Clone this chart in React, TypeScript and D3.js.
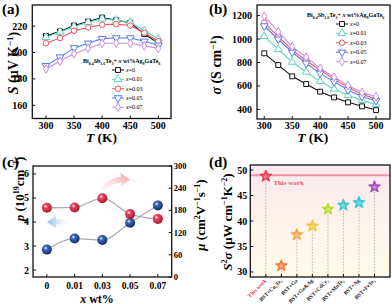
import React from "react";
import * as d3 from "d3";

const temps = [300, 325, 350, 375, 400, 425, 450, 475, 500];
const seriesNames = ["0", "0.01", "0.03", "0.05", "0.07"];
const seriesColors = ["#111111", "#5dd3c3", "#f2545f", "#5b7be8", "#c98ee8"];
const seriesSymbols = ["square", "triangle", "circle", "triangleDown", "diamond"];

const seebeck0 = [212.5, 216, 220.5, 223.5, 226.5, 224.5, 222.5, 214, 207];
const seebeck1 = [211.5, 215.5, 219.5, 223, 225.5, 224.5, 223, 216.5, 210.5];
const seebeck3 = [207, 211, 216.5, 219, 221, 221.5, 220.5, 215, 208.5];
const seebeck5 = [190, 196.5, 203.5, 207, 210.5, 211, 211, 208.5, 205.5];
const seebeck7 = [187.5, 193.5, 199, 203, 207, 207, 207, 205, 203];

const sigma0 = [878, 778, 682, 616, 551, 502, 460, 426, 394];
const sigma1 = [1023, 912, 804, 719, 639, 574, 520, 477, 443];
const sigma3 = [1140, 1020, 907, 815, 736, 656, 588, 528, 488];
const sigma5 = [1111, 998, 887, 793, 707, 636, 565, 508, 474];
const sigma7 = [1194, 1063, 935, 845, 750, 674, 603, 545, 508];

const sTicks = [160, 180, 200, 220];
const sigmaTicks = [400, 600, 800, 1000, 1200];
const tTicks = [300, 350, 400, 450, 500];

const xCats = ["0", "0.01", "0.03", "0.05", "0.07"];
const carrierP = [2.85, 3.31, 3.25, 3.97, 4.69];
const mobility = [187, 188, 213, 170, 157];
const pTicks = [2, 3, 4, 5, 6];
const muTicks = [0, 60, 120, 180, 240, 300];

const pfCats = ["This work", "BST+Cu₂Te₃", "BST+Ga", "BST+Ga&Ag", "BST+CdCr₂", "BST+MnTe₂", "BST+Ag", "BST+FeTe₂"];
const pfValues = [48.8, 31.2, 37.3, 39.0, 42.3, 43.1, 43.6, 46.7];
const pfColors = ["#e8334f", "#f07a3a", "#f5a43a", "#f2c52a", "#b5dc22", "#3fbfbf", "#22c6dc", "#a23fc2"];
const pfTicks = [30, 35, 40, 45, 50];
const thisWorkLine = 49.0;

const FONT = "'Liberation Serif', 'Times New Roman', serif";

function symbolPath(kind: string): string {
  const map: Record<string, [any, number]> = {
    square: [d3.symbolSquare, 24],
    triangle: [d3.symbolTriangle, 26],
    circle: [d3.symbolCircle, 24],
    triangleDown: [d3.symbolTriangle, 26],
    diamond: [d3.symbolDiamond, 22],
  };
  const [t, s] = map[kind];
  return d3.symbol().type(t).size(s)() as string;
}

function Marker({ kind, x, y, color }: { kind: string; x: number; y: number; color: string }) {
  const rot = kind === "triangleDown" ? 180 : 0;
  return (
    <path
      d={symbolPath(kind)}
      transform={`translate(${x},${y}) rotate(${rot})`}
      fill="white"
      stroke={color}
      strokeWidth={1}
    />
  );
}

type LinePanelProps = {
  left: number; right: number; top: number; bottom: number;
  xDomain: [number, number]; yDomain: [number, number];
  yTicks: number[]; data: number[][];
  yLabelGap: number;
  legendX: number; legendTitleY: number; legendYs: number[]; titleX: number;
};

function LinePanel(p: LinePanelProps) {
  const x = d3.scaleLinear().domain(p.xDomain).range([p.left, p.right]);
  const y = d3.scaleLinear().domain(p.yDomain).range([p.bottom, p.top]);
  const line = d3.line<number>().x((_, i) => x(temps[i])).y((d) => y(d));
  return (
    <g fontFamily={FONT} fontWeight="bold">
      {p.data.map((s, si) => (
        <g key={si}>
          <path d={line(s) as string} fill="none" stroke={seriesColors[si]} strokeWidth={1.1} />
          {s.map((v, i) => (
            <Marker key={i} kind={seriesSymbols[si]} x={x(temps[i])} y={y(v)} color={seriesColors[si]} />
          ))}
        </g>
      ))}
      <rect x={p.left} y={p.top} width={p.right - p.left} height={p.bottom - p.top} fill="none" stroke="#111" strokeWidth={1.3} />
      {p.yTicks.map((t) => (
        <g key={t}>
          <line x1={p.left} x2={p.left + 3} y1={y(t)} y2={y(t)} stroke="#111" strokeWidth={1} />
          <text x={p.left - p.yLabelGap} y={y(t)} dy="0.35em" textAnchor="end" fontSize={10}>{t}</text>
        </g>
      ))}
      {tTicks.map((t) => (
        <g key={t}>
          <line x1={x(t)} x2={x(t)} y1={p.bottom} y2={p.bottom - 3} stroke="#111" strokeWidth={1} />
          <text x={x(t)} y={p.bottom + 10} textAnchor="middle" fontSize={10}>{t}</text>
        </g>
      ))}
      <text x={p.titleX} y={142} textAnchor="middle" fontSize={13.5}>
        <tspan fontStyle="italic">T</tspan> (K)
      </text>
      <text x={p.legendX} y={p.legendTitleY} fontSize={6}>
        Bi<tspan fontSize={4} dy={1.5}>0.4</tspan><tspan dy={-1.5}>Sb</tspan><tspan fontSize={4} dy={1.5}>1.6</tspan>
        <tspan dy={-1.5}>Te</tspan><tspan fontSize={4} dy={1.5}>3</tspan><tspan dy={-1.5}>+ </tspan>
        <tspan fontStyle="italic">x</tspan> wt%Ag<tspan fontSize={4} dy={1.5}>9</tspan><tspan dy={-1.5}>GaTe</tspan>
        <tspan fontSize={4} dy={1.5}>6</tspan>
      </text>
      {seriesNames.map((n, si) => {
        const ly = p.legendYs[si];
        const lx = p.legendX + 29;
        return (
          <g key={n}>
            <line x1={lx} x2={lx + 12} y1={ly} y2={ly} stroke={seriesColors[si]} strokeWidth={1} />
            <Marker kind={seriesSymbols[si]} x={lx + 6} y={ly} color={seriesColors[si]} />
            <text x={lx + 14} y={ly} dy="0.35em" fontSize={6} fontWeight="normal">
              <tspan fontStyle="italic">x</tspan>={n}
            </text>
          </g>
        );
      })}
    </g>
  );
}

function star(cx: number, cy: number, ro: number, ri: number): string {
  const pts: [number, number][] = [];
  for (let i = 0; i < 10; i++) {
    const r = i % 2 === 0 ? ro : ri;
    const a = -Math.PI / 2 + (i * Math.PI) / 5;
    pts.push([cx + r * Math.cos(a), cy + r * Math.sin(a)]);
  }
  return "M" + pts.map((q) => q.join(",")).join("L") + "Z";
}

export default function App() {
  // Panel (c)
  const cL = 33, cR = 171.7, cT = 166, cB = 277;
  const cx = d3.scalePoint<string>().domain(xCats).range([cL, cR]).padding(0.5);
  const cyP = d3.scaleLinear().domain([1.71, 6.33]).range([cB, cT]);
  const cyM = d3.scaleLinear().domain([0, 300]).range([cB, cT]);
  const smooth = d3.line<[number, number]>().x((d) => d[0]).y((d) => d[1]).curve(d3.curveMonotoneX);
  const pPts: [number, number][] = carrierP.map((v, i) => [cx(xCats[i]) as number, cyP(v)]);
  const mPts: [number, number][] = mobility.map((v, i) => [cx(xCats[i]) as number, cyM(v)]);

  // Panel (d)
  const dL = 250.3, dR = 390, dT = 165, dB = 277;
  const dx = d3.scalePoint<string>().domain(pfCats).range([dL, dR]).padding(1);
  const dy = d3.scaleLinear().domain([29, 51]).range([dB, dT]);

  return (
    <svg width={392} height={304} style={{ position: "absolute", left: 0, top: 0 }} fontFamily={FONT}>
      <defs>
        <radialGradient id="sphBlue" cx="38%" cy="35%" r="65%">
          <stop offset="0%" stopColor="#e8f0ff" />
          <stop offset="30%" stopColor="#3a66b8" />
          <stop offset="100%" stopColor="#142c66" />
        </radialGradient>
        <radialGradient id="sphRed" cx="38%" cy="35%" r="65%">
          <stop offset="0%" stopColor="#fff0f2" />
          <stop offset="30%" stopColor="#ea4660" />
          <stop offset="100%" stopColor="#a81a32" />
        </radialGradient>
        <linearGradient id="arrBlue" x1="0" y1="0" x2="1" y2="0">
          <stop offset="0%" stopColor="#8dbbe4" stopOpacity={0.95} />
          <stop offset="100%" stopColor="#d8e8f6" stopOpacity={0.1} />
        </linearGradient>
        <linearGradient id="arrRed" x1="1" y1="0" x2="0" y2="1">
          <stop offset="0%" stopColor="#f49a9a" stopOpacity={0.95} />
          <stop offset="100%" stopColor="#fbdada" stopOpacity={0.1} />
        </linearGradient>
        <linearGradient id="bgD" x1="0" y1="0" x2="0" y2="1">
          <stop offset="0%" stopColor="#fbe9ee" />
          <stop offset="100%" stopColor="#fffce9" />
        </linearGradient>
      </defs>

      {/* Panel (a) */}
      <LinePanel
        left={32.3} right={171} top={5} bottom={118.5}
        xDomain={[275.7, 522.5]} yDomain={[150, 236]} yTicks={sTicks}
        data={[seebeck0, seebeck1, seebeck3, seebeck5, seebeck7]} yLabelGap={5}
        legendX={83} legendTitleY={63} legendYs={[70, 79.3, 88.7, 98, 107.3]} titleX={101.5}
      />
      <text x={2} y={14} fontSize={15} fontWeight="bold">(a)</text>
      <text transform="translate(18,63) rotate(-90)" textAnchor="middle" fontSize={14} fontWeight="bold">
        <tspan fontStyle="italic">S</tspan> (μV K<tspan fontSize={9} dy={-5}>−1</tspan><tspan dy={5}>)</tspan>
      </text>

      {/* Panel (b) */}
      <LinePanel
        left={257} right={390} top={5} bottom={119}
        xDomain={[287, 525]} yDomain={[318, 1290]} yTicks={sigmaTicks}
        data={[sigma0, sigma1, sigma3, sigma5, sigma7]} yLabelGap={5}
        legendX={307} legendTitleY={17} legendYs={[24, 33.3, 42.7, 52.3, 61.7]} titleX={312.7}
      />
      <text x={209} y={14} fontSize={15} fontWeight="bold">(b)</text>
      <text transform="translate(221,65) rotate(-90)" textAnchor="middle" fontSize={14} fontWeight="bold">
        <tspan fontStyle="italic">σ</tspan> (S cm<tspan fontSize={9} dy={-5}>−1</tspan><tspan dy={5}>)</tspan>
      </text>

      {/* Panel (c) */}
      <g fontWeight="bold">
        <text x={2} y={167} fontSize={15}>(c)</text>
        <path d={smooth(pPts) as string} fill="none" stroke="#a9a9b4" strokeWidth={1.2} />
        <path d={smooth(mPts) as string} fill="none" stroke="#a9a9b4" strokeWidth={1.2} />
        <path d="M47,222 L56.5,215.5 L55.8,219.6 Q63,219.2 69,220.3 L69,224.5 Q63,224 55.8,224.6 L56.5,228.5 Z" fill="url(#arrBlue)" />
        <path d="M130,179.5 L120.5,173 L121,176.7 Q109,177.5 100,189 L102,193 Q110,183.5 121,182.5 L120.8,186.5 Z" fill="url(#arrRed)" />
        {pPts.map((q, i) => <circle key={"p" + i} cx={q[0]} cy={q[1]} r={5} fill="url(#sphBlue)" />)}
        {mPts.map((q, i) => <circle key={"m" + i} cx={q[0]} cy={q[1]} r={5} fill="url(#sphRed)" />)}
        <rect x={cL} y={cT} width={cR - cL} height={cB - cT} fill="none" stroke="#111" strokeWidth={1.3} />
        {pTicks.map((t) => (
          <g key={t}>
            <line x1={cL} x2={cL + 3} y1={cyP(t)} y2={cyP(t)} stroke="#111" />
            <text x={cL - 4} y={cyP(t)} dy="0.35em" textAnchor="end" fontSize={10}>{t}</text>
          </g>
        ))}
        {muTicks.map((t) => (
          <g key={t}>
            <line x1={cR} x2={cR - 3} y1={cyM(t)} y2={cyM(t)} stroke="#111" />
            <text x={cR + 2} y={cyM(t)} dy="0.35em" textAnchor="start" fontSize={8.5}>{t}</text>
          </g>
        ))}
        {xCats.map((c) => (
          <g key={c}>
            <line x1={cx(c)} x2={cx(c)} y1={cB} y2={cB - 3} stroke="#111" />
            <text x={cx(c)} y={cB + 12} textAnchor="middle" fontSize={9.5}>{c}</text>
          </g>
        ))}
        <text x={97} y={302.5} textAnchor="middle" fontSize={12}>
          <tspan fontStyle="italic">x</tspan> wt%
        </text>
        <text transform="translate(24,189) rotate(-90)" textAnchor="middle" fontSize={13}>
          <tspan fontStyle="italic">p</tspan> (10<tspan fontSize={8} dy={-5}>19</tspan><tspan dy={5}>cm</tspan>
          <tspan fontSize={8} dy={-5}>−3</tspan><tspan dy={5}>)</tspan>
        </text>
        <text transform="translate(205,215) rotate(-90)" textAnchor="middle" fontSize={13}>
          <tspan fontStyle="italic">μ</tspan> (cm<tspan fontSize={8} dy={-5}>2</tspan><tspan dy={5}>V</tspan>
          <tspan fontSize={8} dy={-5}>−1</tspan><tspan dy={5}>s</tspan><tspan fontSize={8} dy={-5}>−1</tspan>
          <tspan dy={5}>)</tspan>
        </text>
      </g>

      {/* Panel (d) */}
      <g fontWeight="bold">
        <text x={209} y={167} fontSize={15}>(d)</text>
        <rect x={dL} y={dT} width={dR - dL} height={dB - dT} fill="url(#bgD)" />
        <line x1={dL} x2={dR} y1={dy(thisWorkLine)} y2={dy(thisWorkLine)} stroke="#f4a0b4" strokeWidth={2.5} opacity={0.5} />
        <line x1={dL} x2={dR} y1={dy(thisWorkLine)} y2={dy(thisWorkLine)} stroke="#ee6a88" strokeWidth={0.8} />
        <text x={dL + 23} y={dy(thisWorkLine) + 10} fontSize={7} fill="#e65a78">This work</text>
        {pfCats.map((c, i) => (
          <line key={"v" + i} x1={dx(c)} x2={dx(c)} y1={dy(pfValues[i]) + 5} y2={dB} stroke="#9a9a9a" strokeWidth={0.7} strokeDasharray="1.5,1.5" />
        ))}
        {pfCats.map((c, i) => (
          <g key={"s" + i}>
            <path d={star(dx(c) as number, dy(pfValues[i]), 6.3, 2.8)} fill={pfColors[i]} stroke={pfColors[i]} strokeWidth={0.8} strokeLinejoin="round" />
            <path d={star(dx(c) as number, dy(pfValues[i]) + 0.3, 3.6, 1.6)} fill="#ffffff" opacity={0.35} />
          </g>
        ))}
        <rect x={dL} y={dT} width={dR - dL} height={dB - dT} fill="none" stroke="#111" strokeWidth={1.3} />
        {pfTicks.map((t) => (
          <g key={t}>
            <line x1={dL} x2={dL + 3} y1={dy(t)} y2={dy(t)} stroke="#111" />
            <text x={dL - 3} y={dy(t)} dy="0.35em" textAnchor="end" fontSize={10}>{t}</text>
          </g>
        ))}
        {pfCats.map((c, i) => (
          <g key={"t" + i}>
            <line x1={dx(c)} x2={dx(c)} y1={dB} y2={dB - 3} stroke="#111" />
            <text transform={`translate(${(dx(c) as number) + 1},${dB + 4}) rotate(-45)`} textAnchor="end" fontSize={5.5} fill={i === 0 ? "#e8334f" : "#222"}>{c}</text>
          </g>
        ))}
        <text transform="translate(232,222) rotate(-90)" textAnchor="middle" fontSize={13}>
          <tspan fontStyle="italic">S</tspan><tspan fontSize={8} dy={-5}>2</tspan><tspan dy={5} fontStyle="italic">σ</tspan> (μW cm
          <tspan fontSize={8} dy={-5}>−1</tspan><tspan dy={5}>K</tspan><tspan fontSize={8} dy={-5}>−2</tspan><tspan dy={5}>)</tspan>
        </text>
      </g>
    </svg>
  );
}
